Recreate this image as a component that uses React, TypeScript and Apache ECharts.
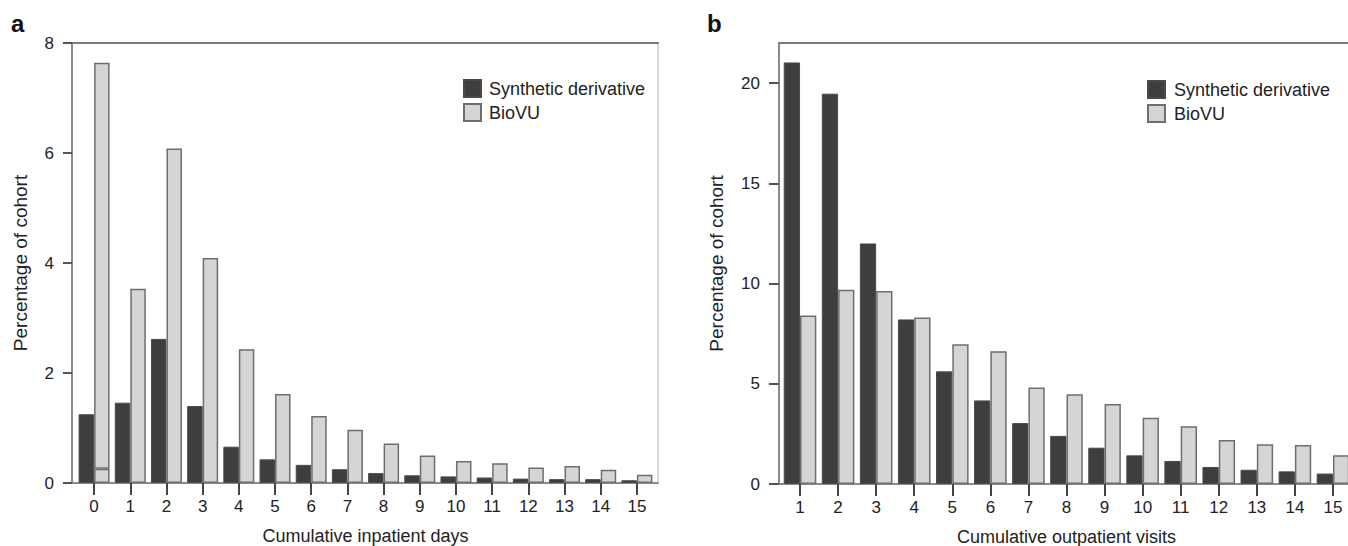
import React, { useEffect, useRef } from "react";
import * as echarts from "echarts";

const inpatientDays = ["0", "1", "2", "3", "4", "5", "6", "7", "8", "9", "10", "11", "12", "13", "14", "15"];
const inpatientSynthetic = [1.25, 1.46, 2.62, 1.4, 0.66, 0.43, 0.33, 0.25, 0.18, 0.14, 0.12, 0.1, 0.08, 0.07, 0.07, 0.05];
const inpatientBioVU = [7.64, 3.53, 6.08, 4.09, 2.43, 1.62, 1.22, 0.97, 0.72, 0.5, 0.4, 0.36, 0.28, 0.31, 0.24, 0.15];
const inpatientBioVULowSegment: (number | null)[] = [0.26, null, null, null, null, null, null, null, null, null, null, null, null, null, null, null];

const outpatientVisits = ["1", "2", "3", "4", "5", "6", "7", "8", "9", "10", "11", "12", "13", "14", "15"];
const outpatientSynthetic = [21.03, 19.47, 12.0, 8.21, 5.62, 4.17, 3.04, 2.4, 1.81, 1.43, 1.15, 0.85, 0.71, 0.63, 0.52];
const outpatientBioVU = [8.41, 9.69, 9.63, 8.3, 6.97, 6.62, 4.81, 4.48, 3.99, 3.3, 2.88, 2.19, 1.98, 1.95, 1.43];

const leftYTicks = [0, 2, 4, 6, 8];
const rightYTicks = [0, 5, 10, 15, 20];

const DARK = "#3d3e40";
const LIGHT = "#d4d5d7";
const FONT = "Liberation Sans, Arial, sans-serif";
const TEXT = "#222";

export default function App() {
  const ref = useRef<HTMLDivElement>(null);
  useEffect(() => {
    if (!ref.current) return;
    const chart = echarts.init(ref.current, undefined, { renderer: "svg" });

    const bioUpper = inpatientBioVU.map((v, i) => +(v - (inpatientBioVULowSegment[i] ?? 0)).toFixed(3));

    const frameX = (gridIndex: number, position: "bottom" | "top", color: string) => ({
      type: "value",
      gridIndex,
      position,
      min: 0,
      max: 1,
      axisLine: { show: true, onZero: false, lineStyle: { color, width: 2 } },
      axisTick: { show: false },
      axisLabel: { show: false },
      splitLine: { show: false },
    });

    const catX = (gridIndex: number, data: string[], name: string) => ({
      type: "category",
      gridIndex,
      data,
      name,
      nameLocation: "middle",
      nameGap: 44,
      nameTextStyle: { fontFamily: FONT, fontSize: 18, lineHeight: 18, color: TEXT },
      axisLine: { show: false, onZero: false },
      axisTick: { show: true, alignWithLabel: true, length: 12, lineStyle: { color: "#444", width: 2 } },
      axisLabel: { margin: 15, fontFamily: FONT, fontSize: 17, color: TEXT },
      splitLine: { show: false },
    });

    const legendBase = {
      orient: "vertical",
      padding: 0,
      itemWidth: 17,
      itemHeight: 17,
      itemGap: 5,
      icon: "rect",
      data: ["Synthetic derivative", "BioVU"],
    };

    const option: any = {
      animation: false,
      backgroundColor: "#fff",
      textStyle: { fontFamily: FONT },
      graphic: [
        { type: "text", x: 11, y: 23, style: { text: "a", font: "bold 24px Liberation Sans, Arial, sans-serif", fill: "#111", verticalAlign: "middle" } },
        { type: "text", x: 707, y: 23, style: { text: "b", font: "bold 24px Liberation Sans, Arial, sans-serif", fill: "#111", verticalAlign: "middle" } },
      ],
      legend: [
        {
          ...legendBase,
          left: 463,
          top: 79,
          textStyle: { fontFamily: FONT, fontSize: 18, color: TEXT, padding: [0, 0, 0, 3] },
        },
        {
          ...legendBase,
          left: 1147,
          top: 80,
          textStyle: { fontFamily: FONT, fontSize: 18, color: TEXT, padding: [0, 0, 0, 4] },
        },
      ],
      grid: [
        { left: 72, top: 43, width: 586, height: 440, outerBoundsMode: "none", containLabel: false },
        { left: 76, top: 43, width: 579, height: 440, outerBoundsMode: "none", containLabel: false },
        { left: 779, top: 43, width: 600, height: 441, outerBoundsMode: "none", containLabel: false },
        { left: 781, top: 43, width: 571, height: 441, outerBoundsMode: "none", containLabel: false },
      ],
      xAxis: [
        frameX(0, "bottom", "#8a8a8a"),
        frameX(0, "top", "#7a7a7a"),
        catX(1, inpatientDays, "Cumulative inpatient days"),
        frameX(2, "bottom", "#8a8a8a"),
        frameX(2, "top", "#7a7a7a"),
        catX(3, outpatientVisits, "Cumulative outpatient visits"),
      ],
      yAxis: [
        {
          type: "value",
          gridIndex: 0,
          position: "left",
          min: 0,
          max: 8,
          interval: 2,
          name: "Percentage of cohort",
          nameLocation: "middle",
          nameGap: 42,
          nameTextStyle: { fontFamily: FONT, fontSize: 19, color: TEXT },
          axisLine: { show: true, onZero: false, lineStyle: { color: "#8a8a8a", width: 2 } },
          axisTick: { show: true, length: 9, lineStyle: { color: "#555", width: 2 }, customValues: leftYTicks },
          axisLabel: { margin: 18, fontFamily: FONT, fontSize: 17, color: TEXT, customValues: leftYTicks },
          splitLine: { show: false },
        },
        {
          type: "value",
          gridIndex: 0,
          position: "right",
          min: 0,
          max: 8,
          axisLine: { show: true, onZero: false, lineStyle: { color: "#dadada", width: 2 } },
          axisTick: { show: false },
          axisLabel: { show: false },
          splitLine: { show: false },
        },
        { type: "value", gridIndex: 1, min: 0, max: 8, show: false, splitLine: { show: false } },
        {
          type: "value",
          gridIndex: 2,
          position: "left",
          min: 0,
          max: 22,
          name: "Percentage of cohort",
          nameLocation: "middle",
          nameGap: 53,
          nameTextStyle: { fontFamily: FONT, fontSize: 19, color: TEXT },
          axisLine: { show: true, onZero: false, lineStyle: { color: "#8a8a8a", width: 2 } },
          axisTick: { show: true, length: 10, lineStyle: { color: "#555", width: 2 }, customValues: rightYTicks },
          axisLabel: { margin: 19, fontFamily: FONT, fontSize: 17, color: TEXT, customValues: rightYTicks },
          splitLine: { show: false },
        },
        { type: "value", gridIndex: 3, min: 0, max: 22, show: false, splitLine: { show: false } },
      ],
      series: [
        {
          type: "bar",
          name: "Synthetic derivative",
          xAxisIndex: 2,
          yAxisIndex: 2,
          data: inpatientSynthetic,
          barWidth: 15.5,
          barGap: "0%",
          itemStyle: { color: DARK, borderColor: "#4a4a4a", borderWidth: 1 },
        },
        {
          type: "bar",
          name: "BioVU",
          xAxisIndex: 2,
          yAxisIndex: 2,
          stack: "bio",
          data: inpatientBioVULowSegment,
          barWidth: 15.5,
          barGap: "0%",
          itemStyle: { color: LIGHT, borderColor: "#6e6e6e", borderWidth: 1.5 },
        },
        {
          type: "bar",
          name: "BioVU",
          xAxisIndex: 2,
          yAxisIndex: 2,
          stack: "bio",
          data: bioUpper,
          barWidth: 15.5,
          barGap: "0%",
          itemStyle: { color: LIGHT, borderColor: "#6e6e6e", borderWidth: 1.5 },
        },
        {
          type: "bar",
          name: "Synthetic derivative",
          xAxisIndex: 5,
          yAxisIndex: 4,
          data: outpatientSynthetic,
          barWidth: 16.3,
          barGap: "0%",
          itemStyle: { color: DARK, borderColor: "#4a4a4a", borderWidth: 1 },
        },
        {
          type: "bar",
          name: "BioVU",
          xAxisIndex: 5,
          yAxisIndex: 4,
          data: outpatientBioVU,
          barWidth: 16.3,
          barGap: "0%",
          itemStyle: { color: LIGHT, borderColor: "#6e6e6e", borderWidth: 1.5 },
        },
      ],
    };
    chart.setOption(option);
    return () => chart.dispose();
  }, []);

  return (
    <div style={{ position: "absolute", left: 0, top: 0, width: 1348, height: 546, overflow: "hidden", background: "#fff" }}>
      <div ref={ref} style={{ width: 1380, height: 546 }} />
    </div>
  );
}
